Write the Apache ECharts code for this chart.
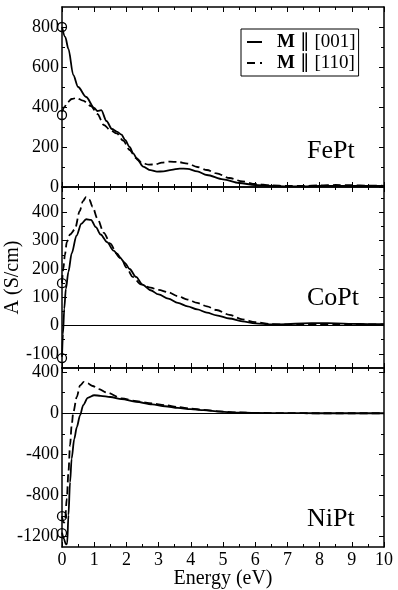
<!DOCTYPE html>
<html>
<head>
<meta charset="utf-8">
<script src="https://cdn.jsdelivr.net/npm/echarts@6/dist/echarts.min.js"></script>
<style>
  html, body { margin: 0; padding: 0; background: #fff; }
  #chart { width: 398px; height: 590px; }
</style>
</head>
<body>
<div id="chart"></div>
<script>
// FePt
const fePtE001 = [0, 0.1, 0.2, 0.35, 0.5, 0.75, 1.0, 1.1, 1.22, 1.38, 1.55, 1.7, 1.85, 1.96, 2.1, 2.21, 2.35, 2.52, 2.75, 2.95, 3.15, 3.4, 3.65, 3.9, 4.2, 4.5, 5.0, 5.5, 6.0, 6.5, 7.0, 7.5, 8.0, 8.5, 9.0, 9.5, 10]
const fePtA001 = [800, 750, 690, 560, 500, 450, 395, 380, 384, 330, 290, 277, 262, 235, 200, 168, 135, 102, 84, 77, 78, 86, 92, 91, 78, 60, 38, 20, 10, 5, 3, 3, 5, 6, 6, 5, 5]
const fePtE110 = [0, 0.08, 0.15, 0.3, 0.45, 0.65, 0.9, 1.1, 1.3, 1.5, 1.7, 1.9, 2.1, 2.3, 2.5, 2.7, 2.9, 3.1, 3.35, 3.6, 3.9, 4.2, 4.5, 4.8, 5.2, 5.6, 6.0, 6.5, 7.0, 7.5, 8.0, 8.5, 9.0, 9.5, 10]
const fePtA110 = [375, 400, 420, 440, 445, 432, 405, 365, 310, 285, 268, 232, 185, 145, 118, 112, 113, 122, 127, 125, 117, 100, 85, 68, 45, 28, 15, 8, 5, 5, 8, 10, 9, 7, 6]
const fePtCircles = [800, 360]

// CoPt
const coPtE001 = [0, 0.03, 0.07, 0.12, 0.2, 0.3, 0.45, 0.6, 0.75, 0.9, 1.05, 1.2, 1.4, 1.6, 1.8, 1.95, 2.1, 2.3, 2.5, 2.75, 3.0, 3.3, 3.6, 3.9, 4.2, 4.5, 4.8, 5.2, 5.6, 6.0, 6.5, 7.0, 7.5, 8.0, 8.5, 9.0, 9.5, 10]
const coPtA001 = [-110, -30, 60, 130, 190, 255, 318, 360, 376, 374, 348, 322, 295, 265, 240, 222, 200, 172, 145, 125, 110, 95, 80, 68, 57, 46, 36, 25, 15, 8, 4, 5, 8, 9, 8, 6, 5, 5]
const coPtE110 = [0, 0.04, 0.09, 0.15, 0.25, 0.4, 0.55, 0.65, 0.75, 0.85, 0.95, 1.1, 1.3, 1.5, 1.7, 1.85, 2.0, 2.2, 2.45, 2.75, 3.0, 3.3, 3.6, 3.9, 4.2, 4.5, 4.8, 5.2, 5.6, 6.0, 6.5, 7.0, 7.5, 8.0, 8.5, 9.0, 9.5, 10]
const coPtA110 = [150, 200, 250, 296, 322, 340, 405, 440, 455, 445, 420, 378, 328, 290, 255, 235, 205, 172, 146, 134, 126, 118, 104, 92, 80, 68, 55, 38, 22, 12, 5, 4, 4, 5, 5, 4, 4, 4]
const coPtCircles = [150, -115]

// NiPt
const niPtE001 = [0, 0.06, 0.12, 0.16, 0.2, 0.25, 0.3, 0.38, 0.46, 0.56, 0.66, 0.8, 1.0, 1.2, 1.5, 1.85, 2.3, 2.8, 3.2, 3.6, 4.0, 4.4, 4.9, 5.4, 6.0, 7.0, 8.0, 9.0, 10]
const niPtA001 = [-1160, -1220, -1275, -1270, -990, -670, -440, -250, -135, -20, 80, 150, 175, 170, 158, 137, 112, 86, 68, 52, 40, 30, 15, 7, 3, 1, 0, 0, 0]
const niPtE110 = [0, 0.04, 0.09, 0.15, 0.2, 0.25, 0.3, 0.35, 0.46, 0.56, 0.68, 0.8, 0.95, 1.15, 1.4, 1.85, 2.3, 2.8, 3.2, 3.6, 4.0, 4.4, 4.9, 5.4, 6.0, 7.0, 8.0, 9.0, 10]
const niPtA110 = [-1000, -1060, -1060, -830, -570, -310, -120, 10, 160, 270, 305, 290, 265, 235, 200, 145, 118, 95, 78, 60, 45, 33, 18, 8, 3, 1, 0, 0, 0]
const niPtCircles = [-1000, -1165]

// axis ranges and tick labels
const xTicks = [0, 1, 2, 3, 4, 5, 6, 7, 8, 9, 10]
const yRanges = [[0, 900], [-150, 490], [-1300, 440]]
const yMajor = [
  [0, 200, 400, 600, 800],
  [-100, 0, 100, 200, 300, 400],
  [-1200, -800, -400, 0, 400]
]
const yMinor = [
  [100, 300, 500, 700],
  [-50, 50, 150, 250, 350, 450],
  [-1000, -600, -200, 200]
]
const panelNames = ['FePt', 'CoPt', 'NiPt']
const seriesNames = ['M ∥ [001]', 'M ∥ [110]']

const font = 'Liberation Serif'
const zip = (xs, ys) => xs.map((x, i) => [x, ys[i]])

const panels = [
  { e001: fePtE001, a001: fePtA001, e110: fePtE110, a110: fePtA110, circles: fePtCircles },
  { e001: coPtE001, a001: coPtA001, e110: coPtE110, a110: coPtA110, circles: coPtCircles },
  { e001: niPtE001, a001: niPtA001, e110: niPtE110, a110: niPtA110, circles: niPtCircles }
]

const grids = [
  { left: 62, right: 14, top: 7, height: 180, outerBoundsMode: 'none' },
  { left: 62, right: 14, top: 187, height: 181, outerBoundsMode: 'none' },
  { left: 62, right: 14, top: 368, height: 179, outerBoundsMode: 'none' }
]

const xAxes = []
const yAxes = []
const series = []

grids.forEach((g, i) => {
  const last = i === grids.length - 1
  ;['bottom', 'top'].forEach((pos) => {
    xAxes.push({
      type: 'value',
      gridIndex: i,
      position: pos,
      min: 0,
      max: 10,
      interval: 1,
      axisLine: { show: true, onZero: false, lineStyle: { color: '#000', width: 1.5 } },
      axisTick: { show: true, inside: true, length: 5, lineStyle: { color: '#000', width: 1 } },
      minorTick: { show: true, splitNumber: 2, length: 3, lineStyle: { color: '#000', width: 1 } },
      splitLine: { show: false },
      axisLabel: {
        show: last && pos === 'bottom',
        margin: 4,
        color: '#000',
        fontFamily: font,
        fontSize: 18,
        customValues: xTicks
      },
      name: last && pos === 'bottom' ? 'Energy (eV)' : '',
      nameLocation: 'middle',
      nameGap: 22,
      nameMoveOverlap: false,
      nameTextStyle: { color: '#000', fontFamily: font, fontSize: 20 }
    })
  })
  ;['left', 'right'].forEach((pos) => {
    // major ticks (+ labels on the left)
    yAxes.push({
      type: 'value',
      gridIndex: i,
      position: pos,
      min: yRanges[i][0],
      max: yRanges[i][1],
      axisLine: { show: true, lineStyle: { color: '#000', width: 1.5 } },
      axisTick: { show: true, inside: true, length: 5, customValues: yMajor[i], lineStyle: { color: '#000', width: 1 } },
      splitLine: { show: false },
      axisLabel: {
        show: pos === 'left',
        customValues: yMajor[i],
        formatter: (v) => String(v),
        margin: 3,
        color: '#000',
        fontFamily: font,
        fontSize: 18
      },
      name: i === 1 && pos === 'left' ? 'A (S/cm)' : '',
      nameLocation: 'middle',
      nameGap: 39,
      nameMoveOverlap: false,
      nameTextStyle: { color: '#000', fontFamily: font, fontSize: 20 }
    })
    // minor ticks
    yAxes.push({
      type: 'value',
      gridIndex: i,
      position: pos,
      min: yRanges[i][0],
      max: yRanges[i][1],
      axisLine: { show: false },
      axisTick: { show: true, inside: true, length: 3, customValues: yMinor[i], lineStyle: { color: '#000', width: 1 } },
      splitLine: { show: false },
      axisLabel: { show: false }
    })
  })

  const p = panels[i]
  const lineBase = {
    type: 'line',
    xAxisIndex: 2 * i,
    yAxisIndex: 4 * i,
    symbol: 'none',
    smooth: 0.3,
    smoothMonotone: 'x'
  }
  series.push(Object.assign({}, lineBase, {
    name: seriesNames[0],
    data: zip(p.e001, p.a001),
    lineStyle: { color: '#000', width: 1.8, type: 'solid' },
    itemStyle: { color: '#000' },
    markLine: i === 0 ? undefined : {
      silent: true,
      symbol: 'none',
      label: { show: false },
      lineStyle: { color: '#000', width: 1, type: 'solid' },
      data: [{ yAxis: 0 }]
    }
  }))
  series.push(Object.assign({}, lineBase, {
    name: seriesNames[1],
    data: zip(p.e110, p.a110),
    lineStyle: { color: '#000', width: 1.8, type: [8, 4] },
    itemStyle: { color: '#000' }
  }))
  series.push({
    type: 'scatter',
    name: 'circles' + i,
    xAxisIndex: 2 * i,
    yAxisIndex: 4 * i,
    symbol: 'circle',
    symbolSize: 9,
    clip: false,
    z: 5,
    itemStyle: { color: 'rgba(0,0,0,0)', borderColor: '#000', borderWidth: 1.3, opacity: 1 },
    data: p.circles.map((v) => [0, v])
  })
})

const labelY = [151, 298, 519]

const chart = echarts.init(document.getElementById('chart'))
chart.setOption({
  animation: false,
  backgroundColor: '#fff',
  grid: grids,
  xAxis: xAxes,
  yAxis: yAxes,
  legend: {
    data: [
      { name: seriesNames[0], icon: 'path://M0,0h15v2h-15z' },
      { name: seriesNames[1], icon: 'path://M0,0h8v2h-8zM13,0h2v2h-2z' }
    ],
    orient: 'vertical',
    left: 241,
    top: 29,
    padding: [3, 3, 3, 6],
    itemGap: 1,
    itemWidth: 15,
    itemHeight: 2,
    borderColor: '#000',
    borderWidth: 1,
    backgroundColor: '#fff',
    selectedMode: false,
    formatter: (n) => '{b|M}' + n.slice(1),
    textStyle: {
      color: '#000',
      fontFamily: font,
      fontSize: 19,
      lineHeight: 20,
      padding: [0, 0, 0, 10],
      rich: { b: { fontWeight: 'bold', fontFamily: font, fontSize: 19, lineHeight: 20, color: '#000' } }
    }
  },
  graphic: panelNames.map((t, i) => ({
    type: 'text',
    x: 307,
    y: labelY[i],
    style: { text: t, font: '26px "Liberation Serif"', fill: '#000', verticalAlign: 'middle' }
  })),
  series: series
})
</script>
</body>
</html>
